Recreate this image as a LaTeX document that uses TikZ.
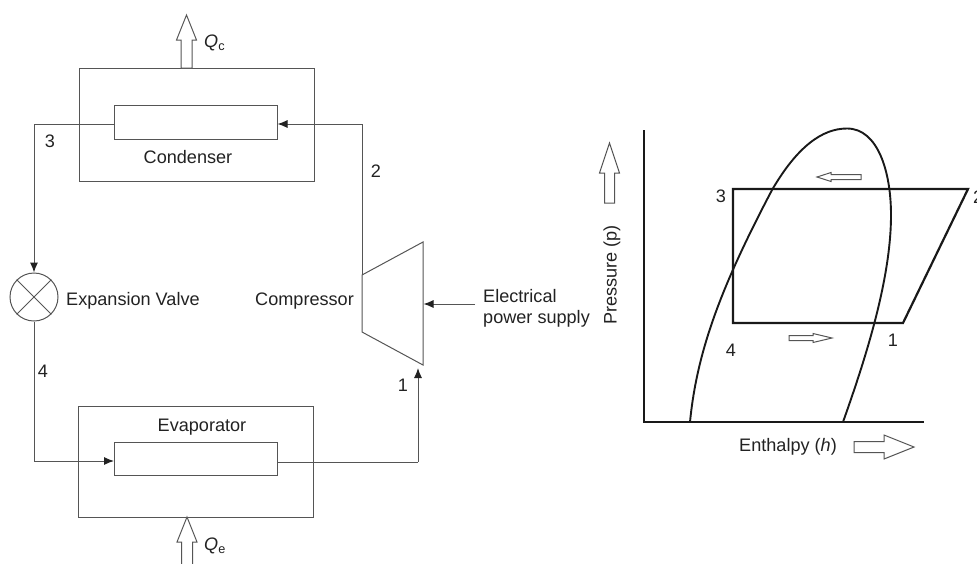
\documentclass[tikz,border=0pt]{standalone}
\usepackage{fontspec}
\setmainfont{Liberation Sans}
\usetikzlibrary{arrows.meta,calc}
\definecolor{ln}{HTML}{555555}
\definecolor{tx}{HTML}{222222}
\tikzset{
  x=1pt,y=-1pt,
  box/.style={draw=ln,line width=1pt,rectangle,inner sep=0pt,fill=white},
  conn/.style={draw=ln,line width=1pt},
  tip/.style={-{Latex[length=10pt,width=8pt,color=tx]}},
  fat/.style={draw=ln,line width=1pt,fill=white,line join=miter},
  thick line/.style={draw=black!90,line width=2.2pt,line join=miter},
  lab/.style={inner sep=0pt,text=tx,font=\fontsize{18.1}{21}\selectfont},
}
% tip x, tip y, rotation, length, shaft half-width, head half-width, head length
\newcommand{\fatarrow}[7]{%
  \draw[fat,shift={(#1,#2)},rotate=#3] (0,0) -- (-#7,-#6) -- (-#7,-#5) -- (-#4,-#5) -- (-#4,#5) -- (-#7,#5) -- (-#7,#6) -- cycle;}
\begin{document}
\begin{tikzpicture}
\useasboundingbox (0,0) rectangle (977,563);
% --- cycle schematic ---
\node[box,minimum width=235pt,minimum height=113pt] (condout) at (196.5,124.5) {};
\node[box,minimum width=163pt,minimum height=34pt] (condin) at (195.5,122) {};
\node[box,minimum width=235pt,minimum height=111pt] (evapout) at (195.5,461.5) {};
\node[box,minimum width=163pt,minimum height=33pt] (evapin) at (195.5,458.5) {};
\node[draw=ln,line width=1pt,circle,minimum size=48pt,inner sep=0pt] (valve) at (34,297) {};
\draw[conn] (valve.45) -- (valve.225) (valve.135) -- (valve.315);
\coordinate (ctl) at (362,275);
\coordinate (ctr) at (423,242);
\coordinate (cbr) at (423,365);
\coordinate (cbl) at (362,332);
\draw[conn,line join=miter] (ctl) -- (ctr) -- (cbr) -- (cbl) -- cycle;
\coordinate (c3) at (34,124);
\coordinate (c2) at (362,124);
\coordinate (c3a) at (114,124);
\coordinate (c2a) at (277.5,124);
\coordinate (c4) at (34,461);
\coordinate (c4a) at (114,461);
\coordinate (c1a) at (277,462);
\coordinate (c1b) at (418,462);
\coordinate (c1c) at (418,368);
\coordinate (ps) at (475,304);
\coordinate (pe) at (423.5,304);
\draw[conn] (c3a) -- (c3);
\draw[conn,tip] (c3) -- (valve.north);
\draw[conn] (valve.south) -- (c4);
\draw[conn,tip] (c4) -- (c4a);
\draw[conn] (c1a) -- (c1b);
\draw[conn,tip] (c1b) -- (c1c);
\draw[conn] (ctl) -- (c2);
\draw[conn,tip] (c2) -- (c2a);
\draw[conn,tip] (ps) -- (pe);
\fatarrow{186.5}{15}{90}{53}{5.5}{10}{25}
\fatarrow{187}{517}{90}{50}{5.5}{10}{25}
\node[lab,anchor=west] (qc) at (204,43) {\textit{Q}\textsubscript{c}};
\node[lab,anchor=west] (qe) at (204,546) {\textit{Q}\textsubscript{e}};
\node[lab] (lcond) at (188,157) {Condenser};
\node[lab] (levap) at (202,427) {Evaporator};
\node[lab,anchor=west] (lval) at (66,301) {Expansion Valve};
\node[lab,anchor=east] (lcomp) at (354,301) {Compressor};
\node[lab,anchor=west,align=left] (lpow) at (483,308) {Electrical\\power supply};
\node[lab] (n3) at (50,141) {3};
\node[lab] (n2) at (376,171) {2};
\node[lab] (n4) at (43,371) {4};
\node[lab] (n1) at (403,385) {1};
% --- p-h chart ---
\coordinate (o) at (644,422);
\coordinate (ya) at (644,130);
\coordinate (xa) at (924,422);
\draw[thick line] (ya) -- (o) -- (xa);
\draw[draw=black!90,line width=1.9pt] (690,422) .. controls (697,350) and (722,285) .. (772,190)
  .. controls (797,147) and (822,128.5) .. (847,128.5)
  .. controls (878,128.5) and (891,172) .. (891,215)
  .. controls (891,280) and (865,360) .. (843,422);
\coordinate (p3) at (733,189);
\coordinate (p2) at (968,189);
\coordinate (p1) at (903,323);
\coordinate (p4) at (733,323);
\draw[thick line] (p3) -- (p2) -- (p1) -- (p4) -- cycle;
\fatarrow{817}{177}{180}{44}{2.5}{4.5}{14}
\fatarrow{832}{338}{0}{43}{2.5}{4.5}{19}
\fatarrow{609.5}{143}{90}{60}{5}{10}{30}
\fatarrow{914}{447}{0}{60}{5.5}{12}{30}
\node[lab,rotate=90] (lp) at (612,275) {Pressure (p)};
\node[lab,anchor=west] (lh) at (739,447) {Enthalpy (\textit{h})};
\node[lab] (m3) at (721,196) {3};
\node[lab] (m4) at (731,350) {4};
\node[lab] (m1) at (893,340) {1};
\node[lab,anchor=west] (m2) at (973,197) {2};
\end{tikzpicture}
\end{document}
